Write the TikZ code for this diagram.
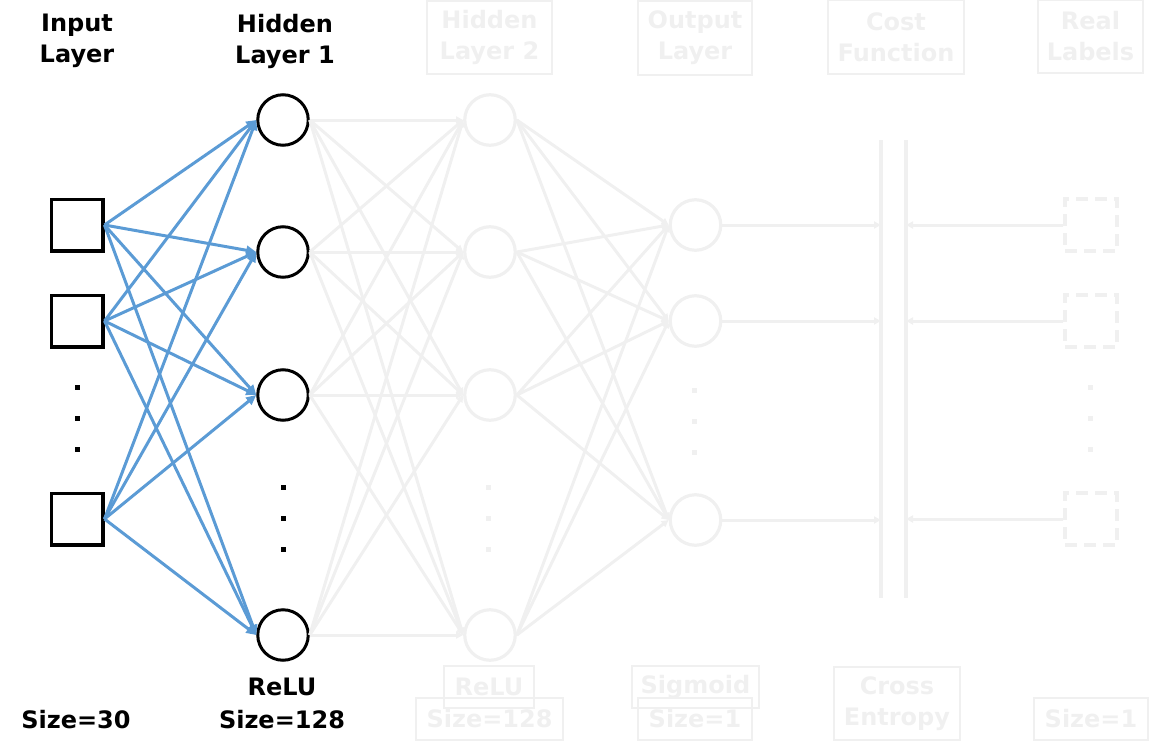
\documentclass[tikz,border=0pt]{standalone}
\usepackage{fontspec}
\setmainfont{DejaVu Sans}
\usetikzlibrary{arrows.meta}
\definecolor{lg}{RGB}{240,240,240}
\definecolor{bl}{RGB}{91,155,213}
\begin{document}
\begin{tikzpicture}[x=1pt,y=-1pt,
  lbl/.style={font=\bfseries\fontsize{24}{31}\selectfont, align=center, inner sep=0pt},
  slbl/.style={font=\bfseries\fontsize{24}{31}\selectfont, inner sep=0pt, anchor=base},
  glbl/.style={lbl, text=lg, draw=lg, line width=1.5pt},
  inp/.style={draw, line width=3.5pt, minimum size=51.5pt, inner sep=0pt},
  neu/.style={draw, circle, line width=3pt, minimum size=50.5pt, inner sep=0pt},
  gneu/.style={neu, draw=lg, line width=3.2pt},
  lab/.style={draw=lg, line width=3.2pt, dash pattern=on 12pt off 7pt, minimum size=52pt, inner sep=0pt},
  dotn/.style={fill, minimum size=5pt, inner sep=0pt},
  gdot/.style={dotn, fill=lg},
  bw/.style={draw=bl, line width=3pt, -{Triangle[length=10pt,width=9pt]}},
  gw/.style={draw=lg, line width=3pt, -{Triangle[length=7pt,width=7pt]}},
  gline/.style={draw=lg, line width=3.2pt}
]
\useasboundingbox (0,0) rectangle (1163,750);

% input layer
\node[inp] (i1) at (77,225) {};
\node[inp] (i2) at (77,321) {};
\node[inp] (i3) at (77,519) {};
\node[dotn] (di1) at (77,387) {};
\node[dotn] (di2) at (77,418) {};
\node[dotn] (di3) at (77,449) {};

% hidden layer 1
\node[neu] (h1) at (283,120) {};
\node[neu] (h2) at (283,252) {};
\node[neu] (h3) at (283,395) {};
\node[neu] (h4) at (283,635) {};
\node[dotn] (dh1) at (283,487) {};
\node[dotn] (dh2) at (283,518) {};
\node[dotn] (dh3) at (283,549) {};

% hidden layer 2
\node[gneu] (g1) at (490,120) {};
\node[gneu] (g2) at (490,252) {};
\node[gneu] (g3) at (490,395) {};
\node[gneu] (g4) at (490,635) {};
\node[gdot] (dg1) at (488,487) {};
\node[gdot] (dg2) at (488,518) {};
\node[gdot] (dg3) at (488,549) {};

% output layer
\node[gneu] (o1) at (695.5,225) {};
\node[gneu] (o2) at (695.5,321) {};
\node[gneu] (o3) at (695.5,520) {};
\node[gdot] (do1) at (694,390) {};
\node[gdot] (do2) at (694,421) {};
\node[gdot] (do3) at (694,452) {};

% real labels
\node[lab] (r1) at (1091,225) {};
\node[lab] (r2) at (1091,321) {};
\node[lab] (r3) at (1091,519) {};
\node[gdot] (dr1) at (1090,387) {};
\node[gdot] (dr2) at (1090,418) {};
\node[gdot] (dr3) at (1090,449) {};

% cost function bars
\coordinate (cLt) at (881,140);
\coordinate (cLb) at (881,598);
\coordinate (cRt) at (906,140);
\coordinate (cRb) at (906,598);
\draw[gline] (cLt) -- (cLb);
\draw[gline] (cRt) -- (cRb);

% connectors
\foreach \i in {1,2,3,4}{
  \foreach \j in {1,2,3,4}{
    \draw[gw] (h\i.east) -- (g\j.west);
  }
  \foreach \j in {1,2,3}{
    \draw[gw] (g\i.east) -- (o\j.west);
  }
}
\foreach \j in {1,2,3}{
  \draw[gw] (o\j.east) -- (o\j.east -| cLt);
  \draw[gw] (r\j.west) -- (r\j.west -| cRt);
}
\foreach \i in {1,2,3}{
  \foreach \j in {1,2,3,4}{
    \draw[bw] (i\i.east) -- (h\j.west);
  }
}

% top labels
\node[lbl] (tIn) at (77,41) {Input\\Layer};
\node[lbl] (tH1) at (285,41) {Hidden\\Layer 1};
\node[glbl, minimum width=125pt, minimum height=73pt] (tH2) at (489.5,37.5) {Hidden\\Layer 2};
\node[glbl, minimum width=114pt, minimum height=74pt] (tOut) at (695,38) {Output\\Layer};
\node[glbl, minimum width=136pt, minimum height=74pt] (tCost) at (896,37) {Cost\\Function};
\node[glbl, minimum width=105pt, minimum height=73pt] (tReal) at (1090.5,36.5) {Real\\Labels};

% bottom labels
\node[slbl] (bIn) at (76,728) {Size=30};
\node[slbl] (bH1a) at (282,695) {ReLU};
\node[slbl] (bH1b) at (282,728) {Size=128};
\node[glbl, minimum width=90pt, minimum height=42pt] (bH2a) at (489,687) {ReLU};
\node[glbl, minimum width=147pt, minimum height=42pt] (bH2b) at (489.5,719) {Size=128};
\node[glbl, minimum width=127pt, minimum height=42pt] (bOa) at (695.5,687) {Sigmoid};
\node[glbl, minimum width=114pt, minimum height=42pt] (bOb) at (695,719) {Size=1};
\node[glbl, minimum width=126pt, minimum height=73pt] (bCost) at (897,703.5) {Cross\\Entropy};
\node[glbl, minimum width=114pt, minimum height=42pt] (bReal) at (1091,719) {Size=1};
\end{tikzpicture}
\end{document}
